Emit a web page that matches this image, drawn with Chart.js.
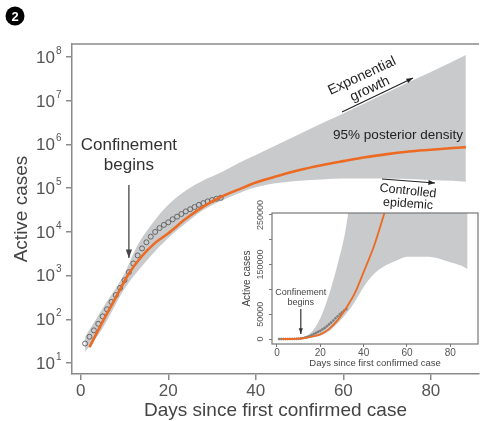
<!DOCTYPE html>
<html lang="en">
<head>
<meta charset="UTF-8">
<title>Active cases since first confirmed case</title>
<script src="https://cdn.jsdelivr.net/npm/chart.js"></script>
<style>
  body { margin: 0; background: #fff; }
  .wrap { position: relative; width: 484px; height: 421px; }
  #main { position: absolute; left: 0; top: 0; }
  #inset { position: absolute; left: 238px; top: 195px; }
</style>
</head>
<body>
<div class="wrap">
  <canvas id="main" width="484" height="421"></canvas>
  <canvas id="inset" width="246" height="176"></canvas>
</div>
<script>
// observed active cases (circles)
const obsDays = [1, 2, 3, 4, 5, 6, 7, 8, 9, 10, 11, 12, 13, 14, 15, 16,
  17, 18, 19, 20, 21, 22, 23, 24, 25, 26, 27, 28, 29, 30, 31, 32];
const obsCases = [28, 40, 56, 79, 117, 170, 250, 360, 525, 790, 1200, 1900, 2900, 4200, 5800, 7800,
  10000, 12300, 14500, 16600, 19500, 22400, 25700, 29500, 33100, 37200, 41700, 45700, 50100, 53700, 57500, 60300];

// model median (orange line)
const fitDays = [2, 5, 8, 11, 14, 17, 20, 24, 28, 32, 36, 40, 45, 50, 55, 60, 65, 70, 75, 80, 85, 88];
const fitCases = [23, 89, 316, 1120, 2820, 5620, 9330, 20000, 38000, 63100, 93000, 135000, 190000,
  260000, 335000, 417000, 513000, 603000, 692000, 759000, 832000, 871000];

// 95% posterior density band
const bandDays = [1, 5, 10, 13, 16, 20, 24, 28, 32, 36, 40, 45, 50, 55, 60, 65, 70, 75, 80, 85, 88];
const bandLower = [18, 63, 500, 1260, 2820, 7240, 15800, 31600, 51300, 75900, 105000, 132000, 148000,
  158000, 166000, 166000, 166000, 162000, 155000, 148000, 141000];
const bandUpper = [40, 178, 1120, 5000, 14100, 41700, 89100, 151000, 229000, 372000, 575000, 1000000,
  1740000, 3020000, 5130000, 8910000, 15500000, 26900000, 45700000, 79400000, 112000000];

const xTicks = [0, 20, 40, 60, 80];
const yTicks = [1e1, 1e2, 1e3, 1e4, 1e5, 1e6, 1e7, 1e8];
const insetYTicks = [0, 50000, 100000, 150000, 200000, 250000];
const insetYLabels = ['0', '50000', '', '150000', '', '250000'];

const FONT = '"Liberation Sans", Arial, sans-serif';
const AXIS = '#8a8a8a';
const BAND = '#c9cacc';
const ORANGE = '#ec6a22';
const TEXT = '#333';

const pts = (xs, ys) => xs.map((x, i) => ({ x: x, y: ys[i] }));

function arrow(ctx, x1, y1, x2, y2, head) {
  const a = Math.atan2(y2 - y1, x2 - x1);
  ctx.beginPath();
  ctx.moveTo(x1, y1);
  ctx.lineTo(x2, y2);
  ctx.stroke();
  ctx.beginPath();
  ctx.moveTo(x2, y2);
  ctx.lineTo(x2 - head * Math.cos(a - 0.35), y2 - head * Math.sin(a - 0.35));
  ctx.lineTo(x2 - head * Math.cos(a + 0.35), y2 - head * Math.sin(a + 0.35));
  ctx.closePath();
  ctx.fill();
}

function rotText(ctx, txt, x, y, deg) {
  ctx.save();
  ctx.translate(x, y);
  ctx.rotate(deg * Math.PI / 180);
  ctx.fillText(txt, 0, 0);
  ctx.restore();
}

// labels, spine and annotations of the big chart
const mainDecor = {
  id: 'mainDecor',
  afterDraw(chart) {
    const { ctx, chartArea, scales: { x, y } } = chart;
    ctx.save();
    // top spine
    ctx.strokeStyle = AXIS;
    ctx.lineWidth = 1.5;
    ctx.beginPath();
    ctx.moveTo(chartArea.left, chartArea.top);
    ctx.lineTo(chartArea.right, chartArea.top);
    ctx.stroke();

    // 10^n tick labels
    ctx.fillStyle = '#555';
    ctx.textBaseline = 'middle';
    yTicks.forEach(v => {
      const py = y.getPixelForValue(v);
      ctx.font = '17px ' + FONT;
      ctx.textAlign = 'right';
      ctx.fillText('10', 55, py + 1);
      ctx.font = '10px ' + FONT;
      ctx.textAlign = 'left';
      ctx.fillText(String(Math.round(Math.log10(v))), 56, py - 6);
    });

    // confinement
    const cx = x.getPixelForValue(11);
    ctx.fillStyle = TEXT;
    ctx.textAlign = 'center';
    ctx.font = '17px ' + FONT;
    ctx.fillText('Confinement', cx, 145);
    ctx.fillText('begins', cx, 165);
    ctx.strokeStyle = '#444';
    ctx.fillStyle = '#444';
    ctx.lineWidth = 1.3;
    arrow(ctx, cx, 185, cx, 258, 9);

    // exponential growth
    ctx.fillStyle = '#222';
    ctx.font = '14px ' + FONT;
    rotText(ctx, 'Exponential', 362, 76, -25);
    rotText(ctx, 'growth', 370, 89, -25);
    ctx.strokeStyle = '#222';
    ctx.fillStyle = '#222';
    ctx.lineWidth = 1.2;
    arrow(ctx, 342, 112, 413, 78, 7);

    ctx.font = '13.5px ' + FONT;
    ctx.fillText('95% posterior density', 398, 135);

    // controlled epidemic
    ctx.font = '12.5px ' + FONT;
    rotText(ctx, 'Controlled', 408, 191, 6);
    rotText(ctx, 'epidemic', 408, 204, 4);
    arrow(ctx, 382, 179, 435, 183, 7);

    // panel badge
    ctx.fillStyle = '#000';
    ctx.beginPath();
    ctx.arc(15, 16, 9.5, 0, Math.PI * 2);
    ctx.fill();
    ctx.fillStyle = '#fff';
    ctx.font = 'bold 13px ' + FONT;
    ctx.fillText('2', 15, 17);
    ctx.restore();
  }
};

new Chart(document.getElementById('main'), {
  type: 'line',
  data: {
    datasets: [
      { data: pts(bandDays, bandUpper), borderWidth: 0, pointRadius: 0, backgroundColor: BAND,
        fill: '+1', cubicInterpolationMode: 'monotone', order: 3 },
      { data: pts(bandDays, bandLower), borderWidth: 0, pointRadius: 0, fill: false,
        cubicInterpolationMode: 'monotone', order: 3 },
      { data: pts(obsDays, obsCases), showLine: false, pointRadius: 2.5, pointBorderWidth: 1,
        pointBorderColor: '#666', pointBackgroundColor: 'rgba(255,255,255,0)', order: 2 },
      { data: pts(fitDays, fitCases), borderColor: ORANGE, borderWidth: 2.6, pointRadius: 0,
        fill: false, cubicInterpolationMode: 'monotone', order: 1 }
    ]
  },
  options: {
    responsive: false,
    animation: false,
    layout: { padding: { top: 44, right: 4 } },
    plugins: { legend: { display: false }, tooltip: { enabled: false } },
    scales: {
      x: {
        type: 'linear', min: -2, max: 91,
        afterBuildTicks: s => { s.ticks = xTicks.map(v => ({ value: v })); },
        afterFit: s => { s.height = 47; },
        grid: { drawOnChartArea: false, drawTicks: true, tickLength: 6, color: AXIS, lineWidth: 1.5 },
        border: { color: AXIS, width: 1.5 },
        ticks: { color: '#555', font: { size: 17, family: FONT }, padding: 1, maxRotation: 0 },
        title: { display: true, text: 'Days since first confirmed case', color: '#444',
          font: { size: 19, family: FONT, lineHeight: 1 }, padding: { top: 0, bottom: 1 } }
      },
      y: {
        type: 'logarithmic', min: Math.pow(10, 0.75), max: Math.pow(10, 8.3),
        afterBuildTicks: s => { s.ticks = yTicks.map(v => ({ value: v })); },
        afterFit: s => { s.width = 72; },
        grid: { drawOnChartArea: false, drawTicks: true, tickLength: 6, color: AXIS, lineWidth: 1.5 },
        border: { color: AXIS, width: 1.5 },
        ticks: { display: false },
        title: { display: true, text: 'Active cases', color: '#444',
          font: { size: 19, family: FONT, lineHeight: 1 }, padding: { top: 12, bottom: 0 } }
      }
    }
  },
  plugins: [mainDecor]
});

// inset background, frame, rotated tick labels and annotation
const insetDecor = {
  id: 'insetDecor',
  beforeDraw(chart) {
    const { ctx, chartArea, width, height } = chart;
    ctx.save();
    ctx.fillStyle = '#fff';
    ctx.fillRect(0, chartArea.top - 4, width, height - chartArea.top + 4);
    ctx.restore();
  },
  afterDraw(chart) {
    const { ctx, chartArea, scales: { x, y } } = chart;
    ctx.save();
    ctx.strokeStyle = '#777';
    ctx.lineWidth = 1.2;
    ctx.strokeRect(chartArea.left, chartArea.top, chartArea.right - chartArea.left, chartArea.bottom - chartArea.top);

    ctx.fillStyle = '#555';
    ctx.font = '9px ' + FONT;
    ctx.textAlign = 'center';
    ctx.textBaseline = 'middle';
    insetYTicks.forEach((v, i) => {
      if (!insetYLabels[i]) return;
      rotText(ctx, insetYLabels[i], chartArea.left - 11, y.getPixelForValue(v), -90);
    });

    const cx = x.getPixelForValue(11);
    ctx.fillStyle = '#444';
    ctx.font = '9px ' + FONT;
    ctx.fillText('Confinement', cx, 98);
    ctx.fillText('begins', cx, 108);
    ctx.strokeStyle = '#333';
    ctx.fillStyle = '#333';
    ctx.lineWidth = 1.2;
    arrow(ctx, cx, 114, cx, 139, 6);
    ctx.restore();
  }
};

new Chart(document.getElementById('inset'), {
  type: 'line',
  data: {
    datasets: [
      { data: pts(bandDays, bandUpper), borderWidth: 0, pointRadius: 0, backgroundColor: BAND,
        fill: '+1', cubicInterpolationMode: 'monotone', order: 3 },
      { data: pts(bandDays, bandLower), borderWidth: 0, pointRadius: 0, fill: false,
        cubicInterpolationMode: 'monotone', order: 3 },
      { data: pts(obsDays, obsCases), showLine: false, pointRadius: 1, pointBorderWidth: 0.6,
        pointBorderColor: '#666', pointBackgroundColor: '#888', order: 2 },
      { data: pts(fitDays, fitCases), borderColor: ORANGE, borderWidth: 1.8, pointRadius: 0,
        fill: false, cubicInterpolationMode: 'monotone', order: 1 }
    ]
  },
  options: {
    responsive: false,
    animation: false,
    layout: { padding: { top: 18, right: 6 } },
    plugins: { legend: { display: false }, tooltip: { enabled: false } },
    scales: {
      x: {
        type: 'linear', min: -2.3, max: 92.8,
        afterBuildTicks: s => { s.ticks = xTicks.map(v => ({ value: v })); },
        afterFit: s => { s.height = 27; },
        grid: { drawOnChartArea: false, drawTicks: true, tickLength: 3, color: '#777' },
        border: { display: false },
        ticks: { color: '#555', font: { size: 10, family: FONT }, padding: 0, maxRotation: 0 },
        title: { display: true, text: 'Days since first confirmed case', color: '#444',
          font: { size: 9.5, family: FONT, lineHeight: 1 }, padding: { top: 0, bottom: 3 } }
      },
      y: {
        type: 'linear', min: -10000, max: 254000,
        afterBuildTicks: s => { s.ticks = insetYTicks.map(v => ({ value: v })); },
        afterFit: s => { s.width = 34; },
        grid: { drawOnChartArea: false, drawTicks: true, tickLength: 3, color: '#777' },
        border: { display: false },
        ticks: { display: false },
        title: { display: true, text: 'Active cases', color: '#444',
          font: { size: 10, family: FONT, lineHeight: 1 }, padding: { top: 4, bottom: 0 } }
      }
    }
  },
  plugins: [insetDecor]
});
</script>
</body>
</html>
